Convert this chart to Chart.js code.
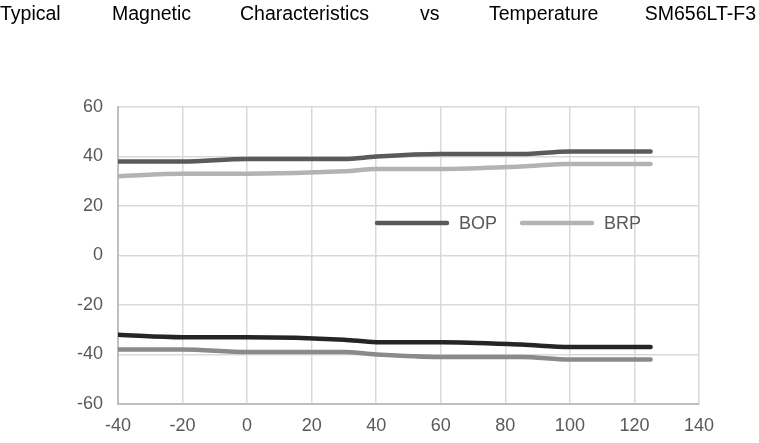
<!DOCTYPE html>
<html>
<head>
<meta charset="utf-8">
<script src="https://cdn.jsdelivr.net/npm/chart.js@4"></script>
<style>
  html, body { margin: 0; padding: 0; background: #fff; }
  #wrap { position: relative; width: 759px; height: 443px; }
  #title { position: absolute; left: 0; top: 2px; width: 759px; height: 26px;
           font-family: "Liberation Sans", Arial, sans-serif; font-size: 19.5px; color: #000; z-index: 2; }
  #title span { position: absolute; top: 0; white-space: nowrap; }
  canvas { position: absolute; left: 0; top: 0; }
</style>
</head>
<body>
<div id="wrap">
  <div id="title">
    <span style="left:0px">Typical</span>
    <span style="left:112px">Magnetic</span>
    <span style="left:240px">Characteristics</span>
    <span style="left:420px">vs</span>
    <span style="left:489px">Temperature</span>
    <span style="right:3px">SM656LT-F3</span>
  </div>
  <canvas id="c" width="759" height="443"></canvas>
</div>
<script>
const temps  = [-40, -20, 0, 30, 40, 60, 85, 100, 125];
const bop    = [38, 38, 39, 39, 40, 41, 41, 42, 42];
const brp    = [32, 33, 33, 34, 35, 35, 36, 37, 37];
const bopNeg = [-32, -33, -33, -34, -35, -35, -36, -37, -37];
const brpNeg = [-38, -38, -39, -39, -40, -41, -41, -42, -42];
const xTicks = [-40, -20, 0, 20, 40, 60, 80, 100, 120, 140];
const yTicks = [-60, -40, -20, 0, 20, 40, 60];

const FONT = '"Liberation Sans", Arial, sans-serif';
const pts = arr => temps.map((t, i) => ({x: t, y: arr[i]}));
const mk = (label, arr, color, legend) => ({
  label, data: pts(arr), borderColor: color, backgroundColor: color,
  borderWidth: 4.5, pointRadius: 0, cubicInterpolationMode: 'monotone',
  borderCapStyle: 'round', fill: false, showInLegend: legend
});

const legendPlugin = {
  id: 'innerLegend',
  afterDraw(chart) {
    const ctx = chart.ctx;
    const items = chart.data.datasets.filter(d => d.showInLegend);
    let x = 377;
    const y = 223;
    ctx.save();
    ctx.font = '18px ' + FONT;
    ctx.textBaseline = 'middle';
    items.forEach(d => {
      ctx.strokeStyle = d.borderColor;
      ctx.lineWidth = 4.5;
      ctx.lineCap = 'round';
      ctx.beginPath(); ctx.moveTo(x, y); ctx.lineTo(x + 70, y); ctx.stroke();
      ctx.fillStyle = '#595959';
      ctx.fillText(d.label, x + 82, y + 1);
      x += 145;
    });
    ctx.restore();
  }
};

new Chart(document.getElementById('c'), {
  type: 'line',
  data: {
    datasets: [
      mk('BOP', bop, '#5a5a5a', true),
      mk('BRP', brp, '#b3b3b3', true),
      mk('BOP-', bopNeg, '#252525', false),
      mk('BRP-', brpNeg, '#8a8a8a', false)
    ]
  },
  options: {
    responsive: false, animation: false,
    layout: { padding: { left: 0, top: 107, right: 60, bottom: 0 } },
    plugins: { legend: { display: false }, title: { display: false }, tooltip: { enabled: false } },
    scales: {
      x: {
        type: 'linear', min: -40, max: 140,
        afterBuildTicks: s => { s.ticks = xTicks.map(v => ({value: v})); },
        afterFit: s => { s.height = 39; },
        grid: { color: '#d9d9d9', lineWidth: 1.5, drawTicks: false },
        border: { color: '#bfbfbf', width: 2 },
        ticks: { color: '#595959', padding: 11, font: { size: 18, family: FONT }, maxRotation: 0 }
      },
      y: {
        type: 'linear', min: -60, max: 60,
        afterBuildTicks: s => { s.ticks = yTicks.map(v => ({value: v})); },
        afterFit: s => { s.width = 118; },
        grid: { color: '#d9d9d9', lineWidth: 1.5, drawTicks: false },
        border: { color: '#bfbfbf', width: 2 },
        ticks: { color: '#595959', padding: 15, font: { size: 18, family: FONT } }
      }
    }
  },
  plugins: [legendPlugin]
});
</script>
</body>
</html>
